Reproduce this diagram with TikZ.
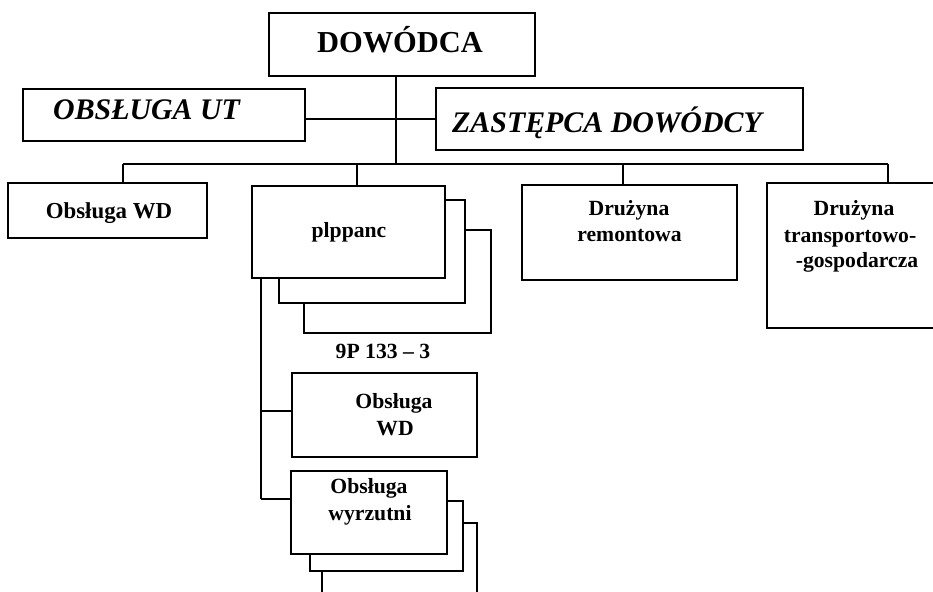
\documentclass[tikz,border=0pt]{standalone}
\usepackage{fontspec}
\setmainfont{Liberation Serif}
\begin{document}
\begin{tikzpicture}[x=0.03cm,y=-0.03cm,
  box/.style={draw, line width=2.1pt, fill=white, inner sep=0pt},
  sz/.style 2 args={minimum width=#1*0.03cm, minimum height=#2*0.03cm},
  bigt/.style={font=\fontsize{26}{30}\selectfont\bfseries, inner sep=0pt},
  bigit/.style={font=\fontsize{25.5}{30}\selectfont\bfseries\itshape, inner sep=0pt},
  txt/.style={font=\fontsize{18.5}{23}\selectfont\bfseries, inner sep=0pt},
  conn/.style={line width=1.9pt},
  sub/.style={line width=1.2pt}]
\useasboundingbox (0,0) rectangle (933,591);
\clip (0,0) rectangle (933,591);
\fill[white] (0,0) rectangle (933,591);

% top level
\node[box, sz={266}{63}] (D) at (402,44.5) {};
\node[bigt, anchor=base] (Dt) at (400,53) {DOWÓDCA};
\node[box, sz={282}{52}] (UT) at (164,115) {};
\node[bigit, anchor=base west] (UTt) at (53,119) {OBSŁUGA UT};
\node[box, sz={367}{62}] (Z) at (619.5,119) {};
\node[bigit, anchor=base west] (Zt) at (452,132) {ZASTĘPCA DOWÓDCY};

% second level
\node[box, sz={199}{55}] (OWD) at (107.5,210.5) {};
\node[txt, font=\fontsize{19.5}{23}\selectfont\bfseries, anchor=base] (OWDt) at (109,218) {Obsługa WD};

\node[box, sz={187}{103}] (P3) at (397.5,281.5) {};
\node[box, sz={186}{103}] (P2) at (372,251.5) {};
\node[box, sz={193}{92}] (P1) at (348.5,232) {};
\node[txt, anchor=base] (P1t) at (349,237) {plppanc};
\node[txt, anchor=base] (Pl) at (383,358) {9P 133 -- 3};

\node[box, sz={215}{95}] (R) at (629.5,232.5) {};
\node[txt, anchor=base] (Rt1) at (629,215) {Drużyna};
\node[txt, anchor=base] (Rt2) at (629.5,241) {remontowa};

\node[box, sz={178}{145}] (T) at (856,255.5) {};
\node[txt, anchor=base] (Tt1) at (854,215) {Drużyna};
\node[txt, anchor=base] (Tt2) at (850,242) {transportowo-};
\node[txt, anchor=base] (Tt3) at (857,267) {-gospodarcza};

% third level
\node[box, sz={185}{84}] (W) at (384.5,415) {};
\node[txt, anchor=base] (Wt1) at (394,408) {Obsługa};
\node[txt, anchor=base] (Wt2) at (395,435) {WD};

\node[box, sz={155}{97}] (Y3) at (399.5,571.5) {};
\node[box, sz={153}{70}] (Y2) at (386.5,536) {};
\node[box, sz={156}{83}] (Y) at (369,512.5) {};
\node[txt, anchor=base] (Yt1) at (369,493) {Obsługa};
\node[txt, anchor=base] (Yt2) at (370,520) {wyrzutni};

% connectors
\coordinate (bus) at (396,164);
\coordinate (bL) at (123,164);
\coordinate (bP) at (357,164);
\coordinate (bR) at (623,164);
\coordinate (bT) at (888,164);
\coordinate (mid) at (396,119);
\draw[conn] (D.south -| bus) -- (bus);
\draw[conn] (UT.east |- mid) -- (Z.west |- mid);
\draw[conn] (bL) -- (bT);
\draw[conn] (bL) -- (bL |- OWD.north);
\draw[conn] (bP) -- (bP |- P1.north);
\draw[conn] (bR) -- (bR |- R.north);
\draw[conn] (bT) -- (bT |- T.north);

\coordinate (v0) at (261,278);
\coordinate (vW) at (261,411);
\coordinate (vY) at (261,499);
\draw[sub] (v0) -- (vY);
\draw[sub] (vW) -- (W.west |- vW);
\draw[sub] (vY) -- (Y.west |- vY);
\end{tikzpicture}
\end{document}
